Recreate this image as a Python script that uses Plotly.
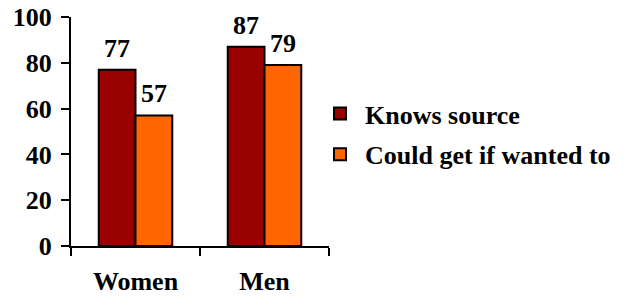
import plotly.graph_objects as go

categories = ["Women", "Men"]
knows_source = [77, 87]
could_get = [57, 79]
series_names = ["Knows source", "Could get if wanted to"]
y_ticks = [0, 20, 40, 60, 80, 100]

FONT = "Times New Roman, Liberation Serif, Times, serif"
FS = 26
fig = go.Figure()
fig.add_trace(go.Bar(x=categories, y=knows_source, name=series_names[0],
                     marker=dict(color="#990000", line=dict(color="black", width=2)),
                     legendgroup="a"))
fig.add_trace(go.Bar(x=categories, y=could_get, name=series_names[1],
                     marker=dict(color="#FF6600", line=dict(color="black", width=2)),
                     legendgroup="b"))

for vals, shift in ((knows_source, -18.5), (could_get, 18.5)):
    for c, v in zip(categories, vals):
        fig.add_annotation(x=c, y=v, text=f"<b>{v}</b>", showarrow=False,
                           xshift=shift, yshift=5, yanchor="bottom",
                           font=dict(family=FONT, size=FS, color="black"))

fig.update_layout(
    width=633, height=297,
    margin=dict(l=71, r=304, t=17, b=51, autoexpand=False),
    paper_bgcolor="white", plot_bgcolor="white",
    barmode="group", bargap=0.43, bargroupgap=0,
    font=dict(family=FONT, size=FS, color="black", weight="bold"),
    showlegend=True,
    legend=dict(xref="container", yref="container", x=315/633, y=1-90/297,
                xanchor="left", yanchor="top", tracegroupgap=4, itemwidth=40,
                font=dict(family=FONT, size=FS, color="black", weight="bold"),
                bgcolor="rgba(0,0,0,0)", itemclick=False),
)
fig.update_xaxes(showline=True, linecolor="black", linewidth=2, ticks="outside",
                 tickson="boundaries", ticklen=8, tickwidth=2, tickcolor="black",
                 showgrid=False, ticklabelstandoff=11, automargin=False,
                 tickfont=dict(family=FONT, size=FS, color="black", weight="bold"))
fig.update_yaxes(range=[0, 100], tickvals=y_ticks, showline=True, linecolor="black",
                 linewidth=2, ticks="outside", ticklen=8, tickwidth=2, tickcolor="black",
                 showgrid=False, zeroline=False, ticklabelstandoff=4, automargin=False,
                 tickfont=dict(family=FONT, size=FS, color="black", weight="bold"))

fig.write_html("out.html", config={"displayModeBar": False},
               post_script="document.body.style.margin='0px';")
